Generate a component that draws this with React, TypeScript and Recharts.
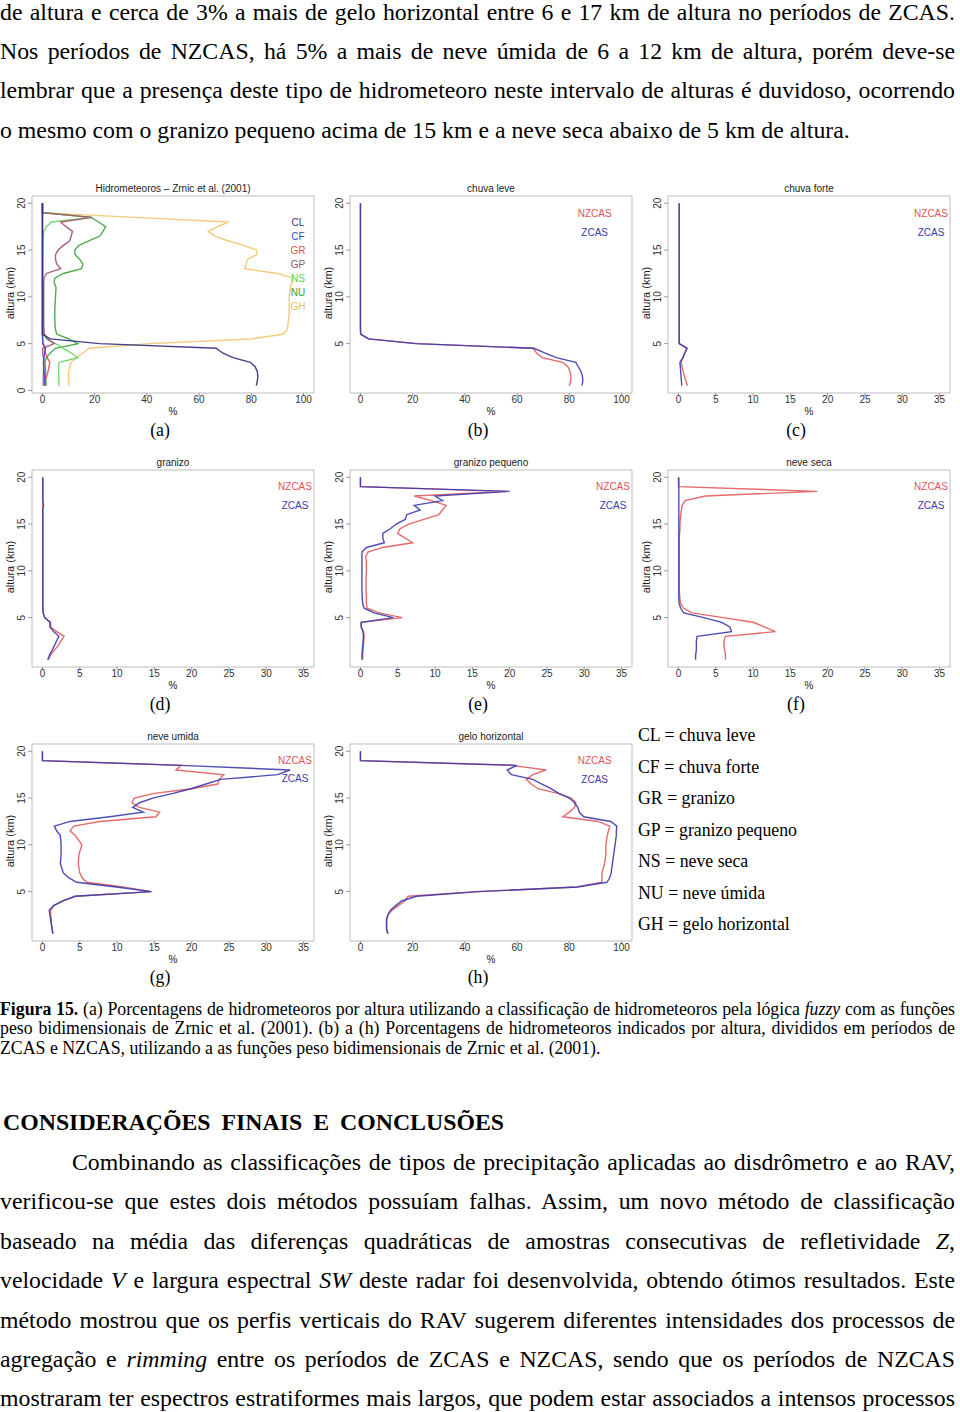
import React from 'react'
import { ScatterChart, Scatter, XAxis, YAxis, ReferenceArea } from 'recharts'

const sans = '"Liberation Sans", Arial, sans-serif'
const serif = '"Liberation Serif", "Times New Roman", serif'

// heights (km) shared by every profile
const heights = [
  0.5, 1, 1.5, 2, 2.5, 3, 3.5, 4, 4.5, 5, 5.5, 6, 6.5, 7,
  8, 9, 10, 11,
  11.5, 12, 12.5, 13, 13.5, 14, 14.5, 15, 15.5, 16, 16.5, 17, 17.5, 18, 18.5, 19, 20,
]

// (a) Hidrometeoros - Zrnic et al. (2001)
const aCL = [
  81.9, 82.3, 82.5, 82.3, 81.5, 79.6, 73, 69, 66.5, 22, 3, 0, 0, 0,
  0, 0, 0, 0,
  0, 0, 0, 0, 0, 0, 0, 0, 0, 0, 0, 0, 0, 0, 0, 0, 0,
]
const aCF = [
  1.0, 0.9, 0.8, 0.65, 0.5, 0.35, 0.6, 0.85, 1.1, 0.1, 0.05, 0, 0, 0,
  0, 0, 0, 0,
  0, 0, 0, 0, 0, 0, 0, 0, 0, 0, 0, 0, 0, 0, 0, 0, 0,
]
const aGR = [
  0.8, 1.1, 1.6, 2.1, 2.5, 2.8, 1.9, 1.1, 1.1, 0.3, 0.1, 0, 0, 0,
  0, 0, 0, 0,
  0, 0, 0, 0, 0, 0, 0, 0, 0, 0, 0, 0, 0, 0, 0, 0, 0,
]
const aGP = [
  0.3, 0.3, 0.35, 0.4, 0.45, 0.5, 0.4, 0.1, 0.1, 4.5, 2.0, 0.8, 0.6, 0.5,
  0.5, 0.5, 0.5, 0.5,
  0.5, 0.6, 1.5, 7, 5.5, 5, 5, 6, 8, 10.5, 11, 11.5, 9, 7, 19, 0, 0,
]
const aNS = [
  6.3, 6.3, 6.2, 6.2, 6.2, 6.4, 13.5, 11, 8, 5, 1.5, 0.5, 0.2, 0.1,
  0.1, 0.1, 0.1, 0.1,
  0.1, 0.1, 0.1, 0.1, 0.1, 0.1, 0.15, 0.2, 0.25, 0.3, 0.4, 0.5, 1.5, 3.5, 18.5, 0, 0,
]
const aNU = [
  1.4, 1.3, 1.2, 1.2, 1.1, 1.0, 1.5, 3, 5, 13.6, 10, 5.5, 5, 4.8,
  4.7, 4.8, 5.0, 5.2,
  4.5, 4.7, 8, 15, 15.5, 14.3, 12.5, 12.4, 14, 18, 22, 23.2, 24.2, 21.5, 18.7, 0, 0,
]
const aGH = [
  10.2, 10, 10, 10, 10.5, 11, 13, 15.5, 18, 41, 80, 92, 93.8, 94,
  94.5, 94.5, 94.5, 95,
  95.5, 96, 90, 77.5, 78, 78.5, 82, 82, 77, 71, 66, 63.5, 67, 71.4, 35, 0, 0,
]

// (b) chuva leve
const bNZ = [
  80, 80.5, 80.6, 80.3, 79.5, 77.5, 69.5, 67.5, 66, 22, 3, 0, 0, 0,
  0, 0, 0, 0,
  0, 0, 0, 0, 0, 0, 0, 0, 0, 0, 0, 0, 0, 0, 0, 0, 0,
]
const bZ = [
  84.8, 85.2, 85, 84.5, 83.5, 82.5, 75, 70.5, 66.5, 21, 3.2, 0.2, 0, 0,
  0, 0, 0, 0,
  0, 0, 0, 0, 0, 0, 0, 0, 0, 0, 0, 0, 0, 0, 0, 0, 0,
]

// (c) chuva forte
const cNZ = [
  1.2, 1.0, 0.8, 0.65, 0.5, 0.35, 0.6, 0.85, 1.15, 0.1, 0.1, 0.1, 0.1, 0.1,
  0.1, 0.1, 0.1, 0.1,
  0.1, 0.1, 0.1, 0.1, 0.1, 0.1, 0.1, 0.1, 0.1, 0.1, 0.1, 0.1, 0.1, 0.1, 0.1, 0.1, 0.1,
]
const cZ = [
  0.45, 0.4, 0.35, 0.3, 0.25, 0.2, 0.6, 0.85, 1.15, 0.1, 0.1, 0.1, 0.1, 0.1,
  0.1, 0.1, 0.1, 0.1,
  0.1, 0.1, 0.1, 0.1, 0.1, 0.1, 0.1, 0.1, 0.1, 0.1, 0.1, 0.1, 0.1, 0.1, 0.1, 0.1, 0.1,
]

// (d) granizo
const dNZ = [
  0.8, 1.1, 1.6, 2.1, 2.5, 2.9, 1.9, 1.1, 1.1, 0.3, 0.1, 0.05, 0.05, 0.05,
  0.05, 0.05, 0.05, 0.05,
  0.05, 0.05, 0.05, 0.05, 0.05, 0.05, 0.05, 0.05, 0.05, 0.05, 0.05, 0.05, 0.05, 0.05, 0.05, 0.05, 0.05,
]
const dZ = [
  0.7, 0.95, 1.3, 1.6, 1.9, 2.2, 1.5, 1.0, 1.0, 0.3, 0.1, 0.05, 0.05, 0.05,
  0.05, 0.05, 0.05, 0.05,
  0.05, 0.05, 0.05, 0.05, 0.05, 0.05, 0.05, 0.05, 0.05, 0.05, 0.05, 0.15, 0.05, 0.05, 0.05, 0.05, 0.05,
]

// (e) granizo pequeno
const eNZ = [
  0.3, 0.3, 0.35, 0.4, 0.45, 0.5, 0.4, 0.1, 0.1, 5.6, 2.5, 0.9, 0.8, 0.8,
  0.75, 0.75, 0.8, 0.8,
  0.7, 1.0, 3.0, 7.0, 6.0, 5.0, 5.3, 6.5, 8.5, 10.5, 11, 11.5, 9.5, 7.2, 19.5, 0, 0,
]
const eZ = [
  0.2, 0.2, 0.25, 0.3, 0.35, 0.4, 0.35, 0.1, 0.1, 4.4, 1.8, 0.5, 0.3, 0.25,
  0.2, 0.2, 0.2, 0.2,
  0.2, 0.2, 0.8, 3.2, 3.0, 3.0, 4.0, 4.8, 6.0, 6.2, 8.0, 7.2, 11, 10, 20, 0, 0,
]

// (f) neve seca
const fNZ = [
  6.3, 6.3, 6.2, 6.1, 6.1, 6.3, 13, 11.5, 10, 6.0, 1.8, 0.7, 0.3, 0.2,
  0.1, 0.1, 0.1, 0.1,
  0.1, 0.1, 0.1, 0.1, 0.1, 0.15, 0.2, 0.2, 0.25, 0.3, 0.4, 0.5, 0.9, 3.6, 18.6, 0, 0,
]
const fZ = [
  2.3, 2.3, 2.4, 2.4, 2.4, 2.5, 7.1, 6.9, 5.8, 3.4, 0.7, 0.3, 0.1, 0.05,
  0.05, 0.05, 0.05, 0.05,
  0.05, 0.05, 0.05, 0.05, 0.05, 0.05, 0.05, 0.05, 0.05, 0.05, 0.05, 0.05, 0.05, 0.05, 0.05, 0.05, 0.05,
]

// (g) neve umida
const gNZ = [
  1.4, 1.3, 1.2, 1.2, 1.1, 1.1, 1.5, 2.8, 4.4, 14.6, 10.8, 5.9, 5.3, 5.0,
  4.8, 4.9, 5.3, 4.4,
  3.7, 4.2, 7.7, 15.2, 15.7, 13.0, 12.0, 12.3, 15, 20, 23.5, 23.7, 24.3, 17.9, 18.6, 0, 0,
]
const gZ = [
  1.4, 1.3, 1.2, 1.1, 1.0, 0.9, 1.5, 2.7, 4.4, 14.6, 9.9, 4.6, 3.5, 2.8,
  2.4, 2.5, 2.5, 2.4,
  1.9, 1.6, 3.7, 9.0, 13.5, 12.1, 13, 14.8, 17.5, 19.9, 21.9, 23.9, 31.5, 33.2, 18.6, 0, 0,
]

// (h) gelo horizontal
const hNZ = [
  10.5, 10, 10, 10, 10.5, 12, 14.5, 17, 18.3, 45, 83, 92.4, 92.5, 92.5,
  93.5, 94, 94, 94.5,
  95, 95.5, 91, 77.5, 80, 82, 82.5, 80.7, 75.6, 68, 65.4, 63.5, 66, 71.1, 58, 0, 0,
]
const hZ = [
  10.5, 10, 10, 10, 10.5, 11.5, 13.5, 15.8, 21.5, 45, 83, 94.4, 95.5, 96,
  96.5, 97, 97.5, 98,
  98, 98.2, 95.9, 85.5, 83.8, 83.2, 82, 80, 76, 73, 69.5, 66, 57.8, 56.2, 59.9, 0, 0,
]

const ticks100 = [0, 20, 40, 60, 80, 100]
const ticks35 = [0, 5, 10, 15, 20, 25, 30, 35]
const yTicksA = [0, 5, 10, 15, 20]
const yTicks = [5, 10, 15, 20]

const dom100: [number, number] = [-4, 104]
const dom35: [number, number] = [-1.4, 36.4]
const yDomain: [number, number] = [-0.28, 20.78]

const RED = '#e25a5c'
const BLUE = '#3a3aae'

type Series = { name: string; values: number[]; color: string }
type LegendItem = { label: string; color: string }

const toPoints = (vals: number[]) => heights.map((h, i) => ({ x: vals[i], y: h }))
const noShape = () => <g />

function YTick(props: any) {
  const { x, y, payload } = props
  const tx = x - 3
  return (
    <text x={tx} y={y} transform={`rotate(-90 ${tx} ${y})`} textAnchor='middle' fontSize={10} fill='#333' fontFamily={sans}>
      {payload.value}
    </text>
  )
}

function Panel(props: {
  boxLeft: number
  boxTop: number
  title: string
  xDomain: [number, number]
  xTicks: number[]
  yTickList: number[]
  series: Series[]
  legend: LegendItem[]
  legendX: number
  legendY: number
  legendStep: number
}) {
  const { boxLeft, boxTop, title, xDomain, xTicks, yTickList, series, legend, legendX, legendY, legendStep } = props
  return (
    <>
      <div style={{ position: 'absolute', left: boxLeft - 32, top: boxTop - 20 }}>
        <ScatterChart width={320} height={241} margin={{ top: 20, right: 6, bottom: 0, left: 0 }}>
          <ReferenceArea
            x1={xDomain[0]}
            x2={xDomain[1]}
            y1={yDomain[0]}
            y2={yDomain[1]}
            fill='none'
            stroke='#bdbdbd'
            strokeWidth={1}
            ifOverflow='visible'
          />
          <XAxis
            type='number'
            dataKey='x'
            domain={xDomain}
            ticks={xTicks}
            allowDataOverflow
            interval={0}
            height={24}
            axisLine={false}
            tickSize={3}
            tickMargin={0}
            tickLine={{ stroke: '#999' }}
            tick={{ fontSize: 10, fill: '#333', fontFamily: sans }}
          />
          <YAxis
            type='number'
            dataKey='y'
            domain={yDomain}
            ticks={yTickList}
            allowDataOverflow
            interval={0}
            width={32}
            axisLine={false}
            tickSize={4}
            tickMargin={0}
            tickLine={{ stroke: '#999' }}
            tick={YTick}
          />
          {series.map((s) => (
            <Scatter
              key={s.name}
              name={s.name}
              data={toPoints(s.values)}
              fill={s.color}
              line={{ stroke: s.color, strokeWidth: 1.4, strokeOpacity: 0.9 }}
              shape={noShape}
              isAnimationActive={false}
            />
          ))}
        </ScatterChart>
      </div>
      <div
        style={{
          position: 'absolute',
          left: boxLeft,
          width: 282,
          top: boxTop - 13,
          textAlign: 'center',
          fontFamily: sans,
          fontSize: 10,
          lineHeight: '12px',
          color: '#222',
        }}
      >
        {title}
      </div>
      <div
        style={{
          position: 'absolute',
          left: boxLeft - 22,
          top: boxTop + 97,
          transform: 'translate(-50%, -50%) rotate(-90deg)',
          whiteSpace: 'nowrap',
          fontFamily: sans,
          fontSize: 11,
          lineHeight: '12px',
          color: '#222',
        }}
      >
        altura (km)
      </div>
      <div
        style={{
          position: 'absolute',
          left: boxLeft,
          width: 282,
          top: boxTop + 197 + 13,
          textAlign: 'center',
          fontFamily: sans,
          fontSize: 10,
          lineHeight: '12px',
          color: '#222',
        }}
      >
        %
      </div>
      {legend.map((item, i) => (
        <div
          key={item.label}
          style={{
            position: 'absolute',
            left: boxLeft + legendX - 30,
            width: 60,
            top: boxTop + legendY + i * legendStep - 6,
            textAlign: 'center',
            fontFamily: sans,
            fontSize: 10,
            lineHeight: '12px',
            color: item.color,
          }}
        >
          {item.label}
        </div>
      ))}
    </>
  )
}

function Line(props: { y: number; x?: number; w?: number; size: number; justify?: boolean; children: React.ReactNode; bold?: boolean }) {
  const { y, x = 0, w = 955, size, justify = true, children, bold } = props
  const lh = Math.round(size * 1.2)
  return (
    <div
      style={{
        position: 'absolute',
        left: x,
        top: y - lh / 2,
        width: w - x,
        fontFamily: serif,
        fontSize: size,
        lineHeight: `${lh}px`,
        textAlign: 'justify',
        textAlignLast: justify ? 'justify' : 'left',
        fontWeight: bold ? 'bold' : 'normal',
        color: '#000',
      }}
    >
      {children}
    </div>
  )
}

const zLegend: LegendItem[] = [
  { label: 'NZCAS', color: '#e05555' },
  { label: 'ZCAS', color: '#3a3aa8' },
]

const aLegend: LegendItem[] = [
  { label: 'CL', color: '#34348a' },
  { label: 'CF', color: '#4040b8' },
  { label: 'GR', color: '#e05050' },
  { label: 'GP', color: '#a05068' },
  { label: 'NS', color: '#55d055' },
  { label: 'NU', color: '#3a9e3a' },
  { label: 'GH', color: '#f0c060' },
]

const aSeries: Series[] = [
  { name: 'GH', values: aGH, color: '#f2c46e' },
  { name: 'NU', values: aNU, color: '#3da23d' },
  { name: 'NS', values: aNS, color: '#66d466' },
  { name: 'GP', values: aGP, color: '#a3506a' },
  { name: 'GR', values: aGR, color: '#e64c4c' },
  { name: 'CF', values: aCF, color: '#4545c0' },
  { name: 'CL', values: aCL, color: '#2e2e80' },
]

const pair = (nz: number[], z: number[]): Series[] => [
  { name: 'NZCAS', values: nz, color: RED },
  { name: 'ZCAS', values: z, color: BLUE },
]

const definitions = [
  'CL = chuva leve',
  'CF = chuva forte',
  'GR = granizo',
  'GP = granizo pequeno',
  'NS = neve seca',
  'NU = neve úmida',
  'GH = gelo horizontal',
]

const cols = [32, 350, 668]
const rows = [196, 470, 744]

const TXT = 23.8
const CAP = 17.8

export default function App() {
  return (
    <div style={{ position: 'relative', width: 960, height: 1412, overflow: 'hidden', background: '#fff' }}>
      <style>{'body{margin:0}'}</style>

      <Line y={12} size={TXT}>de altura e cerca de 3% a mais de gelo horizontal entre 6 e 17 km de altura no períodos de ZCAS.</Line>
      <Line y={51} size={TXT}>Nos períodos de NZCAS, há 5% a mais de neve úmida de 6 a 12 km de altura, porém deve-se</Line>
      <Line y={90.5} size={TXT}>lembrar que a presença deste tipo de hidrometeoro neste intervalo de alturas é duvidoso, ocorrendo</Line>
      <Line y={130} size={TXT} justify={false}>o mesmo com o granizo pequeno acima de 15 km e a neve seca abaixo de 5 km de altura.</Line>

      <Panel boxLeft={cols[0]} boxTop={rows[0]} title='Hidrometeoros – Zrnic et al. (2001)' xDomain={dom100} xTicks={ticks100} yTickList={yTicksA} series={aSeries} legend={aLegend} legendX={266} legendY={26.7} legendStep={14.05} />
      <Panel boxLeft={cols[1]} boxTop={rows[0]} title='chuva leve' xDomain={dom100} xTicks={ticks100} yTickList={yTicks} series={pair(bNZ, bZ)} legend={zLegend} legendX={244.7} legendY={18} legendStep={18.5} />
      <Panel boxLeft={cols[2]} boxTop={rows[0]} title='chuva forte' xDomain={dom35} xTicks={ticks35} yTickList={yTicks} series={pair(cNZ, cZ)} legend={zLegend} legendX={263} legendY={18} legendStep={18.5} />
      <Panel boxLeft={cols[0]} boxTop={rows[1]} title='granizo' xDomain={dom35} xTicks={ticks35} yTickList={yTicks} series={pair(dNZ, dZ)} legend={zLegend} legendX={263} legendY={17.3} legendStep={18.5} />
      <Panel boxLeft={cols[1]} boxTop={rows[1]} title='granizo pequeno' xDomain={dom35} xTicks={ticks35} yTickList={yTicks} series={pair(eNZ, eZ)} legend={zLegend} legendX={263} legendY={17.3} legendStep={18.5} />
      <Panel boxLeft={cols[2]} boxTop={rows[1]} title='neve seca' xDomain={dom35} xTicks={ticks35} yTickList={yTicks} series={pair(fNZ, fZ)} legend={zLegend} legendX={263} legendY={17.3} legendStep={18.5} />
      <Panel boxLeft={cols[0]} boxTop={rows[2]} title='neve umida' xDomain={dom35} xTicks={ticks35} yTickList={yTicks} series={pair(gNZ, gZ)} legend={zLegend} legendX={263} legendY={16.5} legendStep={18.8} />
      <Panel boxLeft={cols[1]} boxTop={rows[2]} title='gelo horizontal' xDomain={dom100} xTicks={ticks100} yTickList={yTicks} series={pair(hNZ, hZ)} legend={zLegend} legendX={244.7} legendY={17} legendStep={18.8} />

      {['(a)', '(b)', '(c)', '(d)', '(e)', '(f)', '(g)', '(h)'].map((lab, i) => {
        const r = Math.floor(i / 3)
        const c = i % 3
        const cy = [430, 703.5, 977][r]
        return (
          <div
            key={lab}
            style={{
              position: 'absolute',
              left: [160, 478, 796][c] - 30,
              width: 60,
              top: cy - 11,
              lineHeight: '22px',
              textAlign: 'center',
              fontFamily: serif,
              fontSize: 17.8,
            }}
          >
            {lab}
          </div>
        )
      })}

      {definitions.map((d, i) => (
        <div
          key={d}
          style={{
            position: 'absolute',
            left: 638,
            top: 735 + i * 31.5 - 11,
            lineHeight: '22px',
            fontFamily: serif,
            fontSize: 17.8,
            whiteSpace: 'nowrap',
          }}
        >
          {d}
        </div>
      ))}

      <Line y={1009} size={CAP}>
        <b>Figura 15.</b> (a) Porcentagens de hidrometeoros por altura utilizando a classificação de hidrometeoros pela lógica <i>fuzzy</i> com as funções
      </Line>
      <Line y={1028.5} size={CAP}>peso bidimensionais de Zrnic et al. (2001). (b) a (h) Porcentagens de hidrometeoros indicados por altura, divididos em períodos de</Line>
      <Line y={1048} size={CAP} justify={false}>ZCAS e NZCAS, utilizando a as funções peso bidimensionais de Zrnic et al. (2001).</Line>

      <Line y={1122} x={3} w={504} size={TXT} bold>CONSIDERAÇÕES FINAIS E CONCLUSÕES</Line>

      <Line y={1162} x={72} size={TXT}>Combinando as classificações de tipos de precipitação aplicadas ao disdrômetro e ao RAV,</Line>
      <Line y={1201.5} size={TXT}>verificou-se que estes dois métodos possuíam falhas. Assim, um novo método de classificação</Line>
      <Line y={1241} size={TXT}>
        baseado na média das diferenças quadráticas de amostras consecutivas de refletividade <i>Z</i>,
      </Line>
      <Line y={1280.5} size={TXT}>
        velocidade <i>V</i> e largura espectral <i>SW</i> deste radar foi desenvolvida, obtendo ótimos resultados. Este
      </Line>
      <Line y={1320} size={TXT}>método mostrou que os perfis verticais do RAV sugerem diferentes intensidades dos processos de</Line>
      <Line y={1359} size={TXT}>
        agregação e <i>rimming</i> entre os períodos de ZCAS e NZCAS, sendo que os períodos de NZCAS
      </Line>
      <Line y={1398.5} size={TXT}>mostraram ter espectros estratiformes mais largos, que podem estar associados a intensos processos</Line>
    </div>
  )
}
